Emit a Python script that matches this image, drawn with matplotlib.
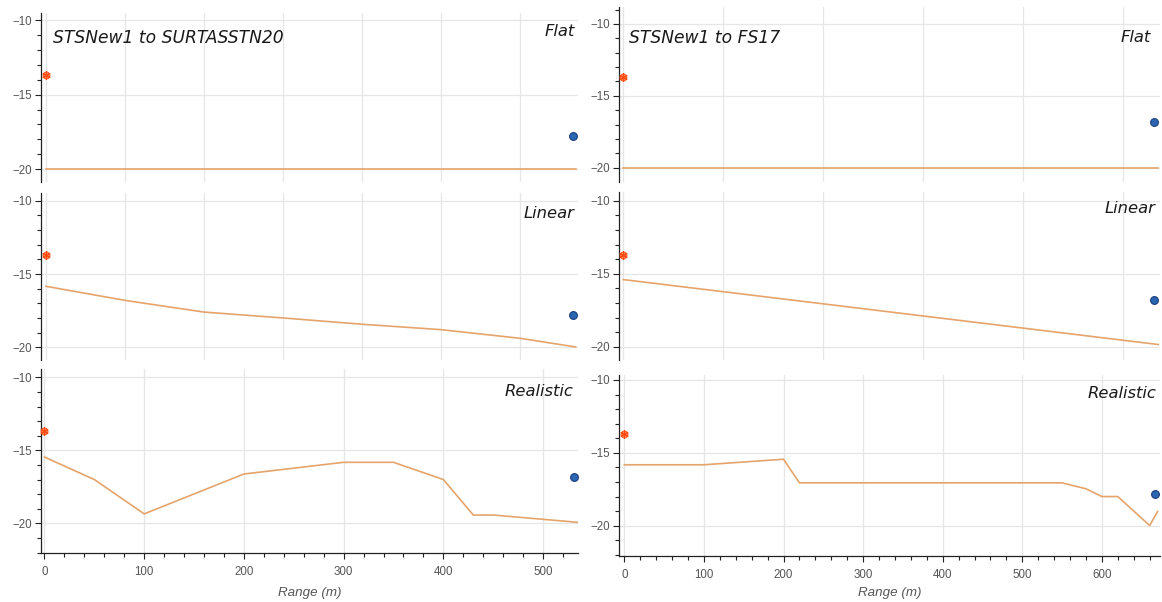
import matplotlib
matplotlib.use("Agg")
import matplotlib.pyplot as plt
from matplotlib.ticker import MultipleLocator

# Source position (range m, depth m)
SRC_RANGE = 0
SRC_DEPTH = -13.7

# Long track bathymetry (range m, depth m)
long_flat_range = [0, 670]
long_flat_depth = [-20, -20]
long_linear_range = [0, 100, 200, 300, 400, 500, 600, 670]
long_linear_depth = [-15.84, -16.8, -17.6, -18.0, -18.43, -18.8, -19.39, -19.98]
long_real_range = [0, 100, 200, 220, 550, 580, 600, 620, 660, 670]
long_real_depth = [-15.82, -15.82, -15.44, -17.06, -17.06, -17.47, -18.0, -18.0, -19.99, -19.03]
long_rx_range = 667
long_rx_depth = -17.8

# Short track bathymetry
short_flat_range = [0, 535]
short_flat_depth = [-20, -20]
short_linear_range = [0, 535]
short_linear_depth = [-15.4, -19.85]
short_real_range = [0, 50, 100, 200, 300, 350, 400, 430, 450, 535]
short_real_depth = [-15.46, -17.0, -19.35, -16.62, -15.82, -15.82, -17.0, -19.43, -19.43, -19.93]
short_rx_range = 531
short_rx_depth = -16.8

titles = ["STSNew1 to SURTASSTN20", "STSNew1 to FS17"]
profile_names = ["Flat", "Linear", "Realistic"]
x_label = "Range (m)"

FIG_W, FIG_H = 1162, 602
LINE_COLOR = "#e5a46c"
TEXT_FONT = "DejaVu Sans"
AXIS_FONT = "Liberation Sans"


def px_rect(x0, y0, x1, y1):
    # pixel box (top-left origin) -> figure fraction rect
    return [x0 / FIG_W, 1 - y1 / FIG_H, (x1 - x0) / FIG_W, (y1 - y0) / FIG_H]


def fig_text(fig, x, y, s, **kw):
    fig.text(x / FIG_W, 1 - y / FIG_H, s, **kw)


def style_axes(ax, xlim, ylim, show_x):
    ax.set_xlim(*xlim)
    ax.set_ylim(*ylim)
    for side in ["top", "right"]:
        ax.spines[side].set_visible(False)
    ax.spines["left"].set_color("#222222")
    ax.spines["left"].set_linewidth(0.9)
    ax.spines["bottom"].set_visible(show_x)
    ax.spines["bottom"].set_color("#222222")
    ax.spines["bottom"].set_linewidth(0.9)

    ax.xaxis.set_major_locator(MultipleLocator(100))
    ax.xaxis.set_minor_locator(MultipleLocator(20))
    ax.yaxis.set_major_locator(MultipleLocator(5))
    ax.yaxis.set_minor_locator(MultipleLocator(1))

    ax.grid(True, which="major", color="#e6e6e6", linewidth=0.9)
    ax.set_axisbelow(True)

    ax.tick_params(axis="y", which="major", direction="out", length=4.3, width=0.8,
                   color="#222222", labelsize=8.3, labelcolor="#555555", pad=2)
    ax.tick_params(axis="y", which="minor", direction="out", length=2.9, width=0.8,
                   color="#222222")
    if show_x:
        ax.tick_params(axis="x", which="major", direction="out", length=4.3, width=0.8,
                       color="#222222", labelsize=8.3, labelcolor="#555555", pad=5)
        ax.tick_params(axis="x", which="minor", direction="out", length=2.9, width=0.8,
                       color="#222222")
    else:
        ax.tick_params(axis="x", which="both", bottom=False, labelbottom=False)

    for lbl in ax.get_yticklabels() + ax.get_xticklabels():
        lbl.set_family(AXIS_FONT)


def draw_panel(ax, rng, depth, rx_range, rx_depth):
    ax.plot(rng, depth, color=LINE_COLOR, linewidth=1.2, zorder=2)
    ax.plot(SRC_RANGE, SRC_DEPTH, marker="o", ms=5, mfc="#ff8a5c", mec="#ff5a26",
            mew=0.7, zorder=4, clip_on=False)
    ax.plot(SRC_RANGE, SRC_DEPTH, marker=(6, 2, 0), ms=6, mec="#ff4a12",
            mew=0.8, zorder=5, clip_on=False)
    ax.plot(rx_range, rx_depth, marker="o", ms=5.6, mfc="#2a66b2", mec="#1d3c7e",
            mew=0.8, zorder=4, clip_on=False)


def main():
    fig = plt.figure(figsize=(FIG_W / 100, FIG_H / 100), dpi=100)

    long_xlim = (-6.7, 673)
    short_xlim = (-3.8, 535)

    panels = [
        # column 0
        (px_rect(40.7, 13, 578, 182), long_flat_range, long_flat_depth,
         long_rx_range, long_rx_depth, long_xlim, (-20.87, -9.51), False, (575, 36.5)),
        (px_rect(40.7, 192.7, 578, 360), long_linear_range, long_linear_depth,
         long_rx_range, long_rx_depth, long_xlim, (-20.87, -9.45), False, (574, 218.3)),
        (px_rect(40.7, 369.3, 578, 552.7), short_real_range, short_real_depth,
         short_rx_range, short_rx_depth, short_xlim, (-22.01, -9.45), True, (573.3, 395.7)),
        # column 1
        (px_rect(619, 6.7, 1160, 181.7), short_flat_range, short_flat_depth,
         short_rx_range, short_rx_depth, (-4.3, 536.7), (-20.97, -8.8), False, (1151, 42.3)),
        (px_rect(619, 191.7, 1160, 360), short_linear_range, short_linear_depth,
         short_rx_range, short_rx_depth, (-4.3, 536.7), (-20.91, -9.38), False, (1155, 212.7)),
        (px_rect(619, 375, 1160, 556), long_real_range, long_real_depth,
         long_rx_range, long_rx_depth, long_xlim, (-22.08, -9.66), True, (1156, 398.3)),
    ]

    for i, (rect, rng, depth, rx_r, rx_d, xlim, ylim, show_x, lbl_pos) in enumerate(panels):
        ax = fig.add_axes(rect)
        draw_panel(ax, rng, depth, rx_r, rx_d)
        style_axes(ax, xlim, ylim, show_x)
        fig_text(fig, lbl_pos[0], lbl_pos[1], profile_names[i % 3], ha="right",
                 va="baseline", fontsize=11.8, style="italic", color="#1a1a1a",
                 family=TEXT_FONT)

    # track titles, top-left of each column
    fig_text(fig, 52.7, 42.7, titles[0], ha="left", va="baseline", fontsize=12.3,
             style="italic", color="#1a1a1a", family=TEXT_FONT)
    fig_text(fig, 629.3, 42.7, titles[1], ha="left", va="baseline", fontsize=12.3,
             style="italic", color="#1a1a1a", family=TEXT_FONT)

    # range labels under the bottom row
    for xc in [309.4, 889.5]:
        fig_text(fig, xc, 596, x_label, ha="center", va="baseline", fontsize=9.6,
                 style="italic", color="#555555", family=AXIS_FONT)

    fig.savefig("out.png", dpi=100)
    plt.close(fig)


if __name__ == "__main__":
    main()
